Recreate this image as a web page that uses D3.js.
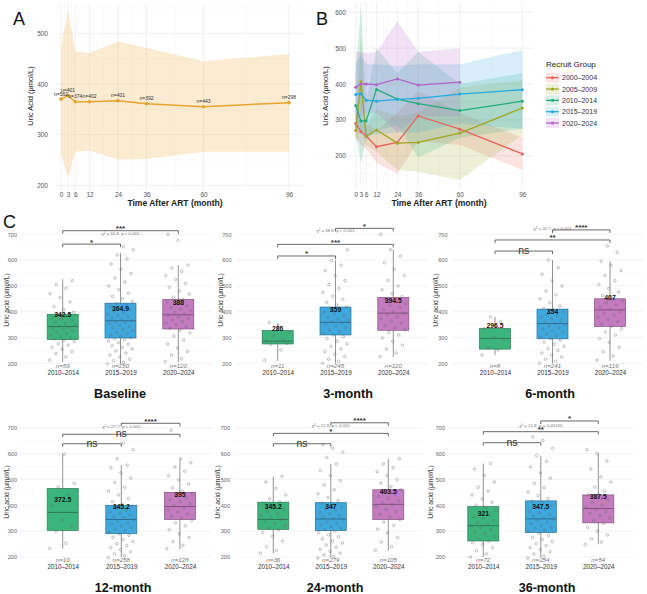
<!DOCTYPE html>
<html><head><meta charset="utf-8">
<script src="https://cdn.jsdelivr.net/npm/d3@7/dist/d3.min.js"></script>
<style>html,body{margin:0;padding:0;background:#fff;} svg{display:block;}</style>
</head><body>
<svg id="chart" width="647" height="594"></svg>
<script>
// ================= DATA =================
// Panel A – overall
const months = [0, 3, 6, 12, 24, 36, 60, 96];
const overallMean  = [370, 377, 365, 365, 367, 361, 355, 363];
const overallUpper = [474, 545, 464, 461, 484, 471, 445, 459];
const overallLower = [263, 214, 266, 268, 251, 252, 266, 266];
const overallN = ["n=562","n=401","n=374","n=402","n=401","n=392","n=443","n=298"];

// Panel B – by recruit group
const recruitGroups = ["2000–2004","2005–2009","2010–2014","2015–2019","2020–2024"];
const mean2000  = [290, 267, 255, 225, 237, 311, 274, 205];
const upper2000 = [330, 300, 290, 270, 320, 380, 320, 250];
const lower2000 = [250, 230, 220, 180, 150, 240, 230, 160];
const mean2005  = [270, 406, 255, 272, 235, 237, 263, 333];
const upper2005 = [300, 540, 280, 330, 310, 320, 390, 410];
const lower2005 = [240, 270, 230, 210, 160, 155, 132, 258];
const mean2010  = [340, 297, 297, 385, 358, 345, 326, 352];
const upper2010 = [420, 620, 350, 500, 430, 490, 400, 430];
const lower2010 = [260, 180, 245, 270, 285, 195, 250, 275];
const mean2015  = [371, 373, 355, 352, 357, 360, 372, 384];
const upper2015 = [460, 480, 455, 455, 450, 455, 455, 495];
const lower2015 = [280, 265, 255, 260, 265, 265, 290, 275];
const mean2020  = [391, 400, 400, 398, 414, 397, 405];
const upper2020 = [490, 490, 485, 490, 575, 490, 500];
const lower2020 = [300, 310, 320, 320, 265, 310, 310];

// Panel C – box plots
const boxCategories = ["2010–2014","2015–2019","2020–2024"];
const timepoints = ["Baseline","3-month","6-month","12-month","24-month","36-month"];
const medians = [[342.5,364.9,388],[286,359,394.5],[296.5,354,407],[372.5,345.2,395],[345.2,347,403.5],[321,347.5,387.5]];
const q1s = [[292,298,333],[275,310,328],[255,295,343],[303,290,345],[307,302,345],[262,295,332]];
const q3s = [[390,433,447],[327,418,455],[335,410,450],[465,400,450],[412,410,460],[395,417,440]];
const whiskerLo = [[206,197,205],[210,200,225],[232,200,210],[232,200,230],[215,198,225],[200,198,250]];
const whiskerHi = [[526,627,580],[355,600,640],[380,600,595],[598,555,580],[510,560,580],[562,592,600]];
const groupNs = [["n=59","n=250","n=120"],["n=11","n=245","n=120"],["n=8","n=241","n=119"],["n=10","n=258","n=128"],["n=36","n=279","n=105"],["n=72","n=254","n=54"]];
const chiTexts = ["χ² = 16.8, p < 0.001","χ² = 18.8, p < 0.001","χ² = 20.7, p < 0.001","χ² = 27.7, p < 0.001","χ² = 21.9, p < 0.001","χ² = 12.8, p = 0.00165"];
const chiLevels = [704, 713, 723, 706, 710, 710];
// bracket pairs: [0-1, 0-2, 1-2]
const bracketPairs = [[0,1],[0,2],[1,2]];
const bracketLabels = [["*","***",null],["*","***","*"],["ns","**","****"],["ns","ns","****"],["ns","*","****"],["ns","**","*"]];
const bracketLevels = [[662,714,null],[616,661,723],[635,678,717],[638,674.5,717],[638,678,719],[642,684.6,726]];

// individual observations (subset) per time point and group
const obsBaseline = [
 [212,225,238,246,255,262,270,276,284,290,294,299,304,309,314,320,326,331,336,340,344,349,354,360,366,372,378,384,390,398,408,420,438,455,470,490,505,520],
 [198,204,210,216,224,232,240,248,256,262,268,274,280,286,291,296,300,305,310,315,320,326,332,338,343,348,354,358,362,366,370,375,380,385,390,396,402,408,414,420,426,432,440,450,460,472,485,500,515,530,548,565,585,605,620,640,652],
 [207,218,232,246,260,275,290,305,318,328,335,342,350,356,362,368,374,380,386,392,398,404,410,416,422,430,438,446,456,468,480,495,510,525,540,556,570,580,676,700]
];
const obs3m = [
 [212,252,274,278,282,285,290,305,322,345,358],
 [200,208,216,226,236,246,256,266,276,286,296,304,310,316,322,330,338,344,350,356,360,366,372,378,385,392,398,405,412,418,426,436,448,460,475,490,505,520,540,560,580,598,640],
 [226,240,255,270,285,298,310,320,330,338,346,355,364,372,380,388,394,400,408,416,424,432,440,450,458,470,485,500,520,540,565,590,615,640,700]
];
const obs6m = [
 [232,252,260,292,300,334,362,380],
 [200,208,216,224,232,240,250,258,266,274,282,290,296,302,308,314,320,326,332,338,344,350,355,360,366,372,378,384,390,398,405,412,422,435,450,465,480,500,520,545,570,600],
 [212,228,245,262,280,296,310,322,334,344,352,360,370,378,386,394,402,410,418,426,434,442,450,462,476,490,505,520,540,560,580,595,630,655]
];
const obs12m = [
 [233,253,300,318,345,400,440,470,485,598],
 [198,205,212,220,228,236,244,252,260,268,276,284,290,296,302,308,314,320,326,332,338,344,350,356,362,368,374,380,388,396,404,414,426,440,455,470,488,505,525,545,555,580,615,640],
 [232,245,260,275,290,305,320,332,342,350,358,366,374,382,390,398,406,414,422,430,438,446,455,468,482,498,515,532,548,565,580,690]
];
const obs24m = [
 [215,225,240,262,280,295,305,312,320,330,338,345,352,360,368,376,385,395,405,412,425,440,465,490,512],
 [196,202,208,215,222,230,238,246,254,262,270,278,286,294,300,306,312,318,324,330,336,342,348,354,360,366,372,378,385,392,400,408,418,430,445,460,478,495,515,535,560,585,605,620,635],
 [226,240,258,275,292,308,322,335,345,355,365,375,385,395,403,410,418,426,434,442,450,460,472,486,500,515,530,545,560,580]
];
const obs36m = [
 [200,212,224,236,248,256,262,270,280,290,298,306,314,320,326,332,340,348,356,364,372,380,390,400,412,425,440,455,470,490,515,540,562],
 [196,204,212,220,228,236,244,252,260,268,276,284,292,298,304,310,316,322,328,334,340,346,352,358,364,370,376,384,392,400,408,416,426,438,452,468,485,505,525,548,570,592,620,650,665],
 [248,258,270,285,300,315,330,340,350,360,368,376,384,392,400,410,420,430,440,455,470,490,510,540,570,600,615]
];
const yTicksC = [200,300,400,500,600,700];

// ================= DRAWING =================
const FONT = "'Liberation Sans', Arial, Helvetica, sans-serif";
const svg = d3.select("#chart");
svg.append("rect").attr("width",647).attr("height",594).attr("fill","#fff");

function txt(g, x, y, s, o = {}) {
  return g.append("text").attr("x", x).attr("y", y).text(s)
    .attr("font-family", FONT).attr("font-size", o.size || 7)
    .attr("fill", o.fill || "#333").attr("text-anchor", o.anchor || "middle")
    .attr("font-weight", o.weight || "normal").attr("font-style", o.style || "normal")
    .attr("dominant-baseline", o.baseline || "auto");
}
function styleAxis(sel, size, color) {
  sel.select(".domain").remove();
  sel.selectAll("line").remove();
  sel.selectAll("text").attr("font-size", size).attr("fill", color).attr("font-family", FONT);
}
function gridLines(g, xs, ys, x0, x1, y0, y1, color, w) {
  g.append("g").selectAll("line").data(ys).join("line")
    .attr("x1", x0).attr("x2", x1).attr("y1", d => d).attr("y2", d => d)
    .attr("stroke", color).attr("stroke-width", w);
  g.append("g").selectAll("line").data(xs).join("line")
    .attr("y1", y0).attr("y2", y1).attr("x1", d => d).attr("x2", d => d)
    .attr("stroke", color).attr("stroke-width", w);
}
const minorMonths = d3.pairs(months).map(([a, b]) => (a + b) / 2);

// ---------- Panel A ----------
const xA = d3.scaleLinear().domain([0, 96]).range([61, 289]);
const yA = d3.scaleLinear().domain([200, 500]).range([185.3, 33.3]);
const gA = svg.append("g");
gridLines(gA, minorMonths.map(xA), [250,350,450,550].map(yA), 56, 303, 4, 192, "#f4f4f4", 0.5);
gridLines(gA, months.map(xA), [200,300,400,500].map(yA), 56, 303, 4, 192, "#ebebeb", 0.7);
const areaA = d3.area().x((d, i) => xA(months[i])).y0((d, i) => yA(overallLower[i])).y1((d, i) => yA(overallUpper[i]));
gA.append("path").datum(months).attr("d", areaA).attr("fill", "#f5c77e").attr("fill-opacity", 0.36);
const lineA = d3.line().x((d, i) => xA(months[i])).y(d => yA(d));
gA.append("path").datum(overallMean).attr("d", lineA).attr("fill", "none").attr("stroke", "#e8a431").attr("stroke-width", 1.5);
gA.selectAll("circle.pa").data(overallMean).join("circle").attr("cx", (d, i) => xA(months[i])).attr("cy", d => yA(d)).attr("r", 1.8).attr("fill", "#e8a431");
overallN.forEach((s, i) => txt(gA, xA(months[i]), yA(overallMean[i]) - 3.5, s, { size: 5, fill: "#333" }));
const axAy = gA.append("g").attr("transform", "translate(50,0)").call(d3.axisLeft(yA).tickValues([200,300,400,500]).tickSize(0).tickPadding(2));
styleAxis(axAy, 6.5, "#555");
const axAx = gA.append("g").attr("transform", "translate(0,190)").call(d3.axisBottom(xA).tickValues(months).tickSize(0).tickPadding(2));
styleAxis(axAx, 6.5, "#555");
txt(gA, 13, 25, "A", { size: 18, anchor: "start", fill: "#111" });
txt(gA, 0, 0, "Uric Acid (μmol/L)", { size: 7.5, fill: "#222", baseline: "central" }).attr("transform", "translate(30,96) rotate(-90)");
txt(gA, 175, 206, "Time After ART (month)", { size: 8.5, weight: "bold", fill: "#222" });

// ---------- Panel B ----------
const xB = d3.scaleLinear().domain([0, 96]).range([355.7, 522.3]);
const yB = d3.scaleLinear().domain([200, 600]).range([155.7, 12.3]);
const gB = svg.append("g");
gridLines(gB, minorMonths.map(xB), [150,250,350,450,550].map(yB), 350, 533, 2, 190, "#f4f4f4", 0.5);
gridLines(gB, months.map(xB), [200,300,400,500,600].map(yB), 350, 533, 2, 190, "#ebebeb", 0.7);
const groupColors = ["#e8625b", "#a3a41f", "#22ab7a", "#25a9e0", "#b064c8"];
const groupMeans = [mean2000, mean2005, mean2010, mean2015, mean2020];
const groupUppers = [upper2000, upper2005, upper2010, upper2015, upper2020];
const groupLowers = [lower2000, lower2005, lower2010, lower2015, lower2020];
groupMeans.forEach((m, k) => {
  const area = d3.area().x((d, i) => xB(months[i])).y0((d, i) => yB(groupLowers[k][i])).y1((d, i) => yB(groupUppers[k][i]));
  gB.append("path").datum(m).attr("d", area).attr("fill", groupColors[k]).attr("fill-opacity", 0.18);
});
groupMeans.forEach((m, k) => {
  const line = d3.line().x((d, i) => xB(months[i])).y(d => yB(d));
  gB.append("path").datum(m).attr("d", line).attr("fill", "none").attr("stroke", groupColors[k]).attr("stroke-width", 1.3);
  gB.append("g").selectAll("circle").data(m).join("circle").attr("cx", (d, i) => xB(months[i])).attr("cy", d => yB(d)).attr("r", 1.5).attr("fill", groupColors[k]);
});
const axBy = gB.append("g").attr("transform", "translate(348,0)").call(d3.axisLeft(yB).tickValues([200,300,400,500,600]).tickSize(0).tickPadding(2));
styleAxis(axBy, 6.5, "#555");
const axBx = gB.append("g").attr("transform", "translate(0,190)").call(d3.axisBottom(xB).tickValues(months).tickSize(0).tickPadding(2));
styleAxis(axBx, 6.5, "#555");
txt(gB, 316, 25, "B", { size: 18, anchor: "start", fill: "#111" });
txt(gB, 0, 0, "Uric Acid (μmol/L)", { size: 7.5, fill: "#222", baseline: "central" }).attr("transform", "translate(325,96) rotate(-90)");
txt(gB, 439, 206, "Time After ART (month)", { size: 8.5, weight: "bold", fill: "#222" });
// legend
const gL = svg.append("g");
txt(gL, 546, 67, "Recruit Group", { size: 8, anchor: "start", fill: "#222" });
recruitGroups.forEach((s, k) => {
  const cy = 77.7 + k * 11.33;
  gL.append("rect").attr("x", 546).attr("y", cy - 5).attr("width", 13).attr("height", 10).attr("fill", groupColors[k]).attr("fill-opacity", 0.18);
  gL.append("line").attr("x1", 546).attr("x2", 559).attr("y1", cy).attr("y2", cy).attr("stroke", groupColors[k]).attr("stroke-width", 1.3);
  gL.append("circle").attr("cx", 552.5).attr("cy", cy).attr("r", 1.5).attr("fill", groupColors[k]);
  txt(gL, 562, cy, s, { size: 7, anchor: "start", fill: "#333", baseline: "central" });
});

// ---------- Panel C ----------
txt(svg, 3, 228, "C", { size: 18, anchor: "start", fill: "#111" });
const obsAll = [obsBaseline, obs3m, obs6m, obs12m, obs24m, obs36m];
const boxFill = ["#3cb57d", "#3da9df", "#c47bc0"];
const boxStroke = ["#2a7a55", "#2a6f95", "#84507f"];
const layoutC = [
  { c0: 62.7, step: 57.8, row: 0, axisX: 18.5, gx0: 20, gx1: 212, yTitleX: 6, titleX: 120 },
  { c0: 277.7, step: 57.8, row: 0, axisX: 233, gx0: 236, gx1: 428, yTitleX: 220, titleX: 348 },
  { c0: 495, step: 57.5, row: 0, axisX: 449, gx0: 452, gx1: 643, yTitleX: 435, titleX: 550 },
  { c0: 62.7, step: 58.6, row: 1, axisX: 18.5, gx0: 20, gx1: 212, yTitleX: 6, titleX: 123 },
  { c0: 273.3, step: 57.5, row: 1, axisX: 231.5, gx0: 234, gx1: 423, yTitleX: 217, titleX: 335 },
  { c0: 483.3, step: 57.5, row: 1, axisX: 446.5, gx0: 448, gx1: 633, yTitleX: 430, titleX: 547 }
];
const rowRanges = [[363.3, 234.3], [557, 427.7]];
const rowCatY = [375, 568.3];
const rowNY = [365.7, 559.3];
const rowTitleY = [398, 592];
const rowMidY = [300, 492];
const halfBox = 15.5;

timepoints.forEach((tp, p) => {
  const L = layoutC[p];
  const g = svg.append("g");
  const y = d3.scaleLinear().domain([200, 700]).range(rowRanges[L.row]);
  const x = d3.scalePoint().domain(boxCategories).range([L.c0, L.c0 + 2 * L.step]);
  // grid
  g.append("g").selectAll("line").data([250,350,450,550,650]).join("line")
    .attr("x1", L.gx0).attr("x2", L.gx1).attr("y1", d => y(d)).attr("y2", d => y(d)).attr("stroke", "#f5f5f5").attr("stroke-width", 0.4);
  g.append("g").selectAll("line").data(yTicksC).join("line")
    .attr("x1", L.gx0).attr("x2", L.gx1).attr("y1", d => y(d)).attr("y2", d => y(d)).attr("stroke", "#ebebeb").attr("stroke-width", 0.6);
  // y axis
  const ay = g.append("g").attr("transform", `translate(${L.axisX},0)`).call(d3.axisLeft(y).tickValues(yTicksC).tickSize(0).tickPadding(1.5));
  styleAxis(ay, 5.5, "#666");
  txt(g, 0, 0, "Uric acid (μmol/L)", { size: 6.8, fill: "#333", baseline: "central" }).attr("transform", `translate(${L.yTitleX},${rowMidY[L.row]}) rotate(-90)`);
  // boxes
  boxCategories.forEach((c, k) => {
    const cx = x(c);
    g.append("line").attr("x1", cx).attr("x2", cx).attr("y1", y(whiskerLo[p][k])).attr("y2", y(whiskerHi[p][k])).attr("stroke", "#888").attr("stroke-width", 0.9);
    g.append("rect").attr("x", cx - halfBox).attr("width", halfBox * 2)
      .attr("y", y(q3s[p][k])).attr("height", y(q1s[p][k]) - y(q3s[p][k]))
      .attr("fill", boxFill[k]).attr("stroke", boxStroke[k]).attr("stroke-width", 0.7);
    g.append("line").attr("x1", cx - halfBox).attr("x2", cx + halfBox).attr("y1", y(medians[p][k])).attr("y2", y(medians[p][k])).attr("stroke", boxStroke[k]).attr("stroke-width", 1);
    // points (horizontal spread is a deterministic layout offset)
    g.append("g").selectAll("circle").data(obsAll[p][k]).join("circle")
      .attr("cx", (d, i) => cx + (((i * 0.6180339887) % 1) - 0.5) * 26)
      .attr("cy", d => y(d)).attr("r", 1.3)
      .attr("fill", "none").attr("stroke", "#666").attr("stroke-opacity", 0.7).attr("stroke-width", 0.55);
    txt(g, cx, y(medians[p][k]) - 10, String(medians[p][k]), { size: 6.8, weight: "bold", fill: "#111" });
    txt(g, cx, rowNY[L.row], groupNs[p][k], { size: 6.2, style: "italic", fill: "#777", baseline: "central" });
  });
  const ax = g.append("g").attr("transform", `translate(0,${rowCatY[L.row] - 4})`).call(d3.axisBottom(x).tickSize(0).tickPadding(0));
  styleAxis(ax, 6.3, "#333");
  // chi-square
  txt(g, x(boxCategories[1]), y(chiLevels[p]), chiTexts[p], { size: 4.4, fill: "#777", baseline: "central" });
  // brackets
  bracketPairs.forEach(([a, b], j) => {
    const lab = bracketLabels[p][j];
    if (!lab) return;
    const yy = y(bracketLevels[p][j]);
    const xa = x(boxCategories[a]), xb = x(boxCategories[b]);
    g.append("path").attr("d", `M${xa},${yy + 3}V${yy}H${xb}V${yy + 3}`).attr("fill", "none").attr("stroke", "#444").attr("stroke-width", 0.8);
    if (lab === "ns") txt(g, (xa + xb) / 2, yy + 3, lab, { size: 10.5, fill: "#333" });
    else txt(g, (xa + xb) / 2, yy + 0.5, lab, { size: 8, weight: "bold", fill: "#333" });
  });
  txt(g, L.titleX, rowTitleY[L.row], tp, { size: 12.6, weight: "bold", fill: "#111" });
});
</script>
</body></html>
